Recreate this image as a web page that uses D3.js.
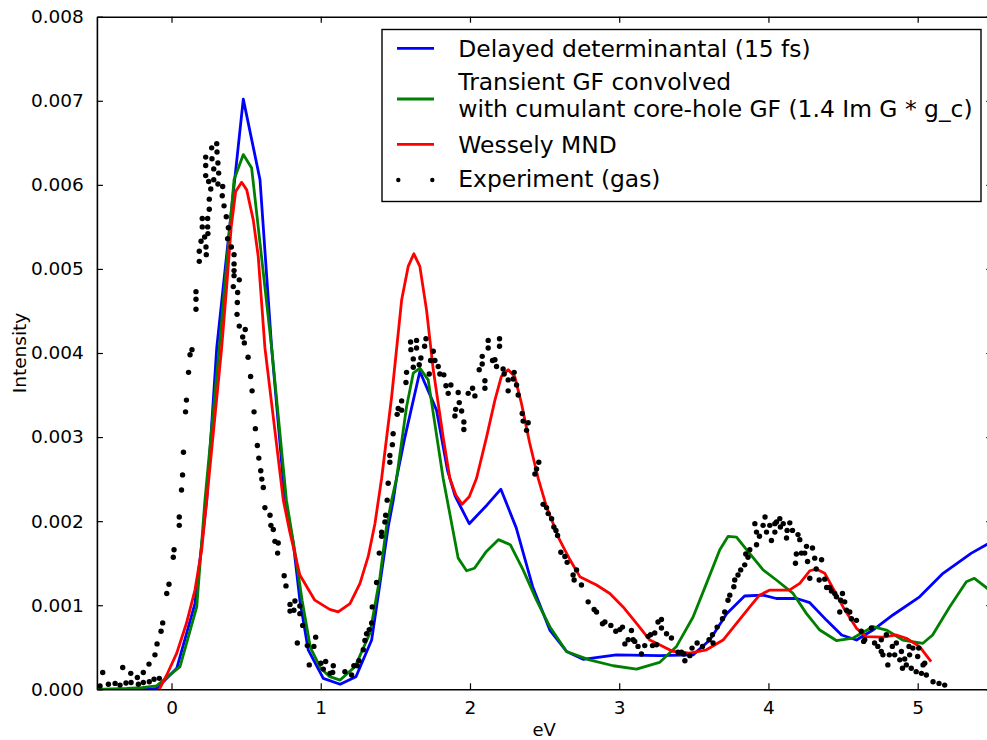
<!DOCTYPE html>
<html>
<head>
<meta charset="utf-8">
<script src="https://cdn.jsdelivr.net/npm/d3@7"></script>
<style>
  body { margin: 0; background: #fff; }
  svg { display: block; }
  text { font-family: "DejaVu Sans", sans-serif; fill: #000; }
</style>
</head>
<body>
<svg id="chart" width="987" height="740"></svg>
<script>
// ---- Series: photon energy (eV) and intensity ----
const delayedX = [-0.5, -0.3, -0.15, -0.1, 0.035, 0.157, 0.236, 0.303, 0.481, 0.593, 0.671, 0.76, 0.816, 0.86, 0.916, 1.017, 1.13, 1.236, 1.341, 1.397, 1.452, 1.486, 1.508, 1.564, 1.664, 1.776, 1.85, 1.9, 1.995, 2.113, 2.207, 2.31, 2.42, 2.535, 2.647, 2.758, 2.98, 3.27, 3.495, 3.607, 3.72, 3.84, 3.964, 4.053, 4.19, 4.277, 4.39, 4.49, 4.59, 4.70, 4.834, 5.013, 5.17, 5.36, 5.5];
const delayedY = [0, 0, 0, 0.00001, 0.00025, 0.00102, 0.00225, 0.00406, 0.00702, 0.00606, 0.00406, 0.00225, 0.00174, 0.00106, 0.00047, 0.00013, 0.00006, 0.00015, 0.000586, 0.00126, 0.00193, 0.00225, 0.00251, 0.0030, 0.00378, 0.00332, 0.0026, 0.0023, 0.00197, 0.00219, 0.00238, 0.00192, 0.00122, 0.000705, 0.00045, 0.000357, 0.00041, 0.0004, 0.00041, 0.000586, 0.0009, 0.00111, 0.00112, 0.00108, 0.00108, 0.00103, 0.00082, 0.000646, 0.000586, 0.000705, 0.000884, 0.0011, 0.00138, 0.00162, 0.00176];

const transientX = [-0.5, -0.3, -0.2, -0.1, 0.057, 0.169, 0.224, 0.32, 0.419, 0.481, 0.537, 0.671, 0.77, 0.83, 0.875, 0.93, 1.0, 1.06, 1.13, 1.23, 1.33, 1.397, 1.44, 1.475, 1.508, 1.575, 1.62, 1.664, 1.72, 1.82, 1.921, 1.977, 2.03, 2.11, 2.19, 2.27, 2.356, 2.446, 2.535, 2.647, 2.80, 2.96, 3.116, 3.27, 3.384, 3.495, 3.585, 3.674, 3.73, 3.786, 3.853, 3.964, 4.053, 4.165, 4.255, 4.344, 4.455, 4.567, 4.70, 4.79, 4.90, 5.035, 5.10, 5.214, 5.326, 5.38, 5.46, 5.5];
const transientY = [0, 0.00001, 0.00002, 0.00004, 0.00027, 0.00098, 0.00225, 0.00406, 0.00606, 0.00636, 0.0062, 0.00406, 0.00225, 0.0016, 0.00106, 0.0005, 0.00025, 0.00015, 0.00011, 0.00027, 0.00067, 0.00134, 0.00193, 0.00225, 0.00251, 0.00336, 0.00376, 0.00382, 0.00368, 0.00251, 0.00156, 0.00141, 0.00144, 0.00164, 0.00178, 0.00172, 0.00142, 0.00106, 0.000745, 0.00045, 0.00035, 0.00028, 0.00024, 0.00032, 0.00051, 0.00086, 0.00126, 0.00166, 0.00182, 0.00181, 0.00166, 0.00142, 0.0013, 0.00114, 0.0009, 0.000705, 0.00058, 0.00061, 0.000745, 0.000705, 0.000586, 0.000547, 0.000646, 0.00098, 0.00128, 0.00132, 0.00121, 0.00115];

const wesselyX = [-0.082, -0.032, 0.035, 0.10, 0.157, 0.202, 0.236, 0.336, 0.37, 0.40, 0.43, 0.47, 0.504, 0.548, 0.581, 0.626, 0.749, 0.794, 0.86, 0.96, 1.06, 1.117, 1.196, 1.263, 1.318, 1.363, 1.408, 1.475, 1.542, 1.586, 1.624, 1.664, 1.709, 1.754, 1.82, 1.865, 1.905, 1.947, 1.995, 2.044, 2.111, 2.167, 2.21, 2.256, 2.30, 2.345, 2.40, 2.457, 2.513, 2.60, 2.67, 2.736, 2.848, 2.937, 3.026, 3.116, 3.205, 3.27, 3.36, 3.473, 3.585, 3.696, 3.786, 3.875, 3.94, 4.01, 4.14, 4.21, 4.277, 4.32, 4.377, 4.433, 4.50, 4.59, 4.656, 4.768, 4.857, 4.924, 5.013, 5.09];
const wesselyY = [0, 0.00017, 0.00043, 0.000785, 0.00118, 0.00166, 0.00225, 0.00406, 0.0048, 0.0055, 0.00592, 0.00603, 0.00594, 0.00558, 0.00515, 0.00406, 0.00225, 0.00186, 0.00136, 0.00106, 0.00095, 0.00092, 0.00102, 0.00126, 0.00158, 0.00197, 0.00251, 0.00348, 0.00463, 0.00503, 0.00518, 0.00503, 0.00451, 0.0038, 0.0030, 0.00251, 0.00231, 0.0022, 0.00229, 0.00251, 0.0030, 0.00344, 0.00372, 0.0038, 0.00372, 0.0034, 0.00293, 0.00251, 0.00217, 0.00178, 0.00154, 0.00134, 0.00124, 0.00114, 0.00098, 0.000785, 0.000586, 0.00053, 0.00045, 0.00043, 0.00047, 0.000586, 0.000785, 0.00098, 0.00112, 0.00118, 0.00118, 0.00126, 0.00141, 0.00143, 0.00138, 0.0012, 0.00098, 0.000725, 0.000626, 0.00062, 0.000646, 0.000607, 0.000507, 0.00033];

const experimentX = [-0.479, -0.461, -0.423, -0.378, -0.345, -0.327, -0.305, -0.273, -0.271, -0.229, -0.222, -0.189, -0.189, -0.151, -0.149, -0.117, -0.111, -0.097, -0.082, -0.070, -0.059, -0.032, -0.017, 0.012, 0.017, 0.052, 0.052, 0.067, 0.074, 0.080, 0.094, 0.100, 0.114, 0.124, 0.137, 0.164, 0.164, 0.164, 0.186, 0.186, 0.198, 0.206, 0.206, 0.222, 0.231, 0.233, 0.242, 0.242, 0.244, 0.229, 0.229, 0.229, 0.249, 0.253, 0.253, 0.263, 0.269, 0.271, 0.283, 0.283, 0.303, 0.305, 0.311, 0.316, 0.311, 0.343, 0.340, 0.352, 0.367, 0.381, 0.376, 0.401, 0.419, 0.419, 0.419, 0.419, 0.414, 0.454, 0.443, 0.441, 0.439, 0.454, 0.494, 0.477, 0.488, 0.513, 0.530, 0.540, 0.553, 0.562, 0.575, 0.585, 0.598, 0.605, 0.615, 0.626, 0.66, 0.666, 0.682, 0.693, 0.715, 0.711, 0.755, 0.767, 0.794, 0.794, 0.827, 0.82, 0.86, 0.86, 0.843, 0.879, 0.91, 0.966, 0.954, 0.923, 1.001, 1.033, 1.017, 1.062, 1.084, 1.08, 1.162, 1.207, 1.222, 1.245, 1.256, 1.285, 1.296, 1.307, 1.325, 1.341, 1.345, 1.374, 1.392, 1.408, 1.408, 1.43, 1.435, 1.445, 1.452, 1.463, 1.463, 1.48, 1.485, 1.512, 1.519, 1.542, 1.542, 1.571, 1.575, 1.602, 1.604, 1.62, 1.62, 1.642, 1.642, 1.66, 1.671, 1.696, 1.705, 1.727, 1.736, 1.754, 1.765, 1.787, 1.798, 1.825, 1.839, 1.854, 1.872, 1.899, 1.904, 1.921, 1.928, 1.944, 1.959, 1.959, 1.988, 2.017, 2.033, 2.062, 2.082, 2.082, 2.10, 2.10, 2.122, 2.122, 2.151, 2.167, 2.178, 2.198, 2.198, 2.222, 2.229, 2.256, 2.256, 2.289, 2.296, 2.312, 2.323, 2.35, 2.356, 2.379, 2.39, 2.461, 2.446, 2.435, 2.49, 2.513, 2.524, 2.547, 2.562, 2.576, 2.587, 2.609, 2.636, 2.651, 2.691, 2.714, 2.698, 2.747, 2.792, 2.832, 2.848, 2.888, 2.904, 2.944, 2.977, 3.004, 3.022, 3.038, 3.06, 3.082, 3.093, 3.104, 3.126, 3.149, 3.171, 3.194, 3.21, 3.223, 3.238, 3.25, 3.26, 3.283, 3.283, 3.317, 3.35, 3.394, 3.417, 3.433, 3.44, 3.473, 3.488, 3.522, 3.558, 3.602, 3.625, 3.629, 3.656, 3.692, 3.707, 3.729, 3.741, 3.768, 3.774, 3.796, 3.814, 3.841, 3.848, 3.863, 3.875, 3.92, 3.92, 3.909, 3.94, 3.964, 3.977, 3.987, 4.009, 4.02, 4.043, 4.043, 4.054, 4.076, 4.08, 4.099, 4.121, 4.125, 4.143, 4.161, 4.181, 4.187, 4.198, 4.21, 4.221, 4.243, 4.255, 4.262, 4.277, 4.295, 4.31, 4.32, 4.34, 4.356, 4.377, 4.39, 4.41, 4.422, 4.444, 4.455, 4.484, 4.496, 4.478, 4.511, 4.523, 4.545, 4.556, 4.59, 4.622, 4.645, 4.638, 4.69, 4.711, 4.733, 4.756, 4.756, 4.767, 4.79, 4.8, 4.81, 4.83, 4.846, 4.857, 4.88, 4.891, 4.898, 4.913, 4.924, 4.942, 4.946, 4.957, 4.968, 4.99, 5.0, 5.007, 5.025, 5.036, 5.047, 5.058, 5.103, 5.143, 5.181];
const experimentY = [0.00004, 0.0002, 0.00006, 0.00007, 0.00005, 0.00026, 0.000075, 0.00019, 0.00008, 0.00014, 0.00006, 0.0002, 0.00008, 0.0003, 0.00009, 0.00012, 0.00041, 0.00054, 0.00013, 0.00069, 0.00079, 0.00114, 0.00125, 0.00157, 0.00166, 0.00195, 0.00205, 0.00237, 0.00255, 0.00282, 0.0033, 0.00344, 0.00377, 0.00398, 0.00404, 0.00473, 0.00464, 0.00452, 0.00509, 0.00521, 0.00533, 0.0055, 0.0056, 0.00538, 0.00526, 0.00517, 0.0056, 0.0055, 0.00542, 0.00611, 0.00623, 0.00633, 0.00604, 0.00583, 0.00571, 0.00595, 0.00644, 0.00631, 0.00606, 0.00619, 0.00649, 0.00639, 0.00626, 0.00614, 0.00601, 0.00598, 0.00587, 0.00575, 0.00562, 0.00549, 0.00536, 0.00526, 0.00517, 0.00506, 0.00498, 0.00492, 0.00479, 0.00487, 0.00472, 0.0046, 0.00446, 0.00432, 0.00428, 0.00419, 0.00412, 0.00395, 0.00372, 0.00355, 0.0033, 0.0031, 0.0029, 0.00275, 0.0026, 0.0025, 0.0024, 0.00216, 0.00207, 0.00195, 0.0019, 0.00176, 0.00174, 0.00162, 0.00135, 0.00123, 0.00101, 0.00093, 0.00105, 0.00094, 0.00099, 0.0009, 0.00055, 0.00076, 0.00052, 0.00062, 0.00051, 0.00029, 0.00031, 0.00033, 0.00024, 0.00019, 0.00028, 0.0002, 0.00021, 0.00017, 0.00028, 0.00028, 0.00034, 0.00047, 0.00058, 0.00066, 0.00071, 0.00079, 0.00098, 0.00127, 0.00162, 0.00182, 0.00187, 0.00199, 0.00207, 0.00225, 0.00245, 0.0027, 0.00278, 0.00291, 0.00304, 0.00327, 0.00334, 0.00332, 0.00343, 0.00365, 0.00377, 0.00413, 0.00404, 0.00393, 0.00383, 0.00415, 0.00406, 0.00386, 0.00394, 0.00408, 0.00417, 0.00375, 0.00391, 0.00402, 0.00391, 0.00384, 0.00375, 0.00374, 0.00361, 0.00352, 0.00362, 0.00325, 0.00333, 0.00353, 0.00341, 0.00331, 0.00318, 0.00309, 0.00352, 0.00358, 0.00349, 0.0038, 0.00387, 0.00396, 0.00358, 0.00367, 0.00406, 0.00415, 0.00391, 0.00392, 0.00384, 0.00408, 0.00417, 0.00381, 0.00375, 0.00368, 0.00355, 0.00369, 0.00377, 0.00362, 0.0035, 0.00328, 0.00319, 0.00308, 0.00317, 0.0027, 0.00262, 0.00256, 0.0022, 0.00216, 0.00209, 0.00203, 0.00193, 0.00189, 0.00183, 0.00163, 0.00158, 0.00151, 0.00136, 0.00142, 0.0013, 0.00124, 0.00104, 0.00095, 0.00092, 0.00078, 0.0008, 0.00076, 0.00069, 0.00071, 0.00074, 0.00054, 0.00059, 0.0007, 0.00059, 0.00057, 0.00051, 0.00042, 0.00052, 0.00063, 0.00065, 0.00052, 0.00067, 0.00053, 0.0008, 0.00083, 0.00073, 0.00066, 0.00061, 0.00044, 0.00044, 0.00042, 0.00034, 0.0004, 0.00049, 0.00055, 0.00051, 0.00059, 0.00065, 0.00055, 0.00074, 0.00084, 0.00092, 0.00106, 0.00112, 0.00122, 0.0013, 0.00136, 0.00142, 0.00148, 0.00161, 0.00157, 0.00166, 0.00172, 0.00187, 0.00197, 0.00182, 0.00195, 0.00205, 0.00187, 0.00195, 0.00177, 0.00197, 0.00187, 0.00199, 0.00203, 0.00193, 0.00197, 0.0018, 0.00189, 0.00198, 0.00189, 0.0015, 0.00161, 0.00184, 0.00178, 0.00162, 0.00162, 0.0017, 0.00152, 0.00132, 0.00168, 0.00156, 0.00143, 0.0013, 0.00154, 0.00131, 0.00121, 0.00121, 0.00117, 0.00114, 0.0011, 0.00106, 0.00114, 0.00092, 0.00104, 0.00094, 0.00092, 0.00084, 0.00082, 0.00069, 0.00059, 0.00057, 0.00073, 0.00055, 0.00051, 0.00059, 0.00045, 0.00041, 0.00065, 0.00029, 0.00041, 0.00051, 0.00041, 0.00055, 0.00035, 0.00045, 0.00025, 0.00036, 0.00029, 0.00051, 0.00041, 0.00025, 0.00049, 0.00021, 0.00039, 0.00049, 0.00019, 0.00029, 0.00031, 0.00017, 0.00009, 0.00007, 0.00005];

const xTicks = [0, 1, 2, 3, 4, 5];
const yTicks = [0, 0.001, 0.002, 0.003, 0.004, 0.005, 0.006, 0.007, 0.008];

const seriesNames = [
  ["Delayed determinantal (15 fs)"],
  ["Transient GF convolved", "with cumulant core-hole GF (1.4 Im G * g_c)"],
  ["Wessely MND"],
  ["Experiment (gas)"]
];
const seriesColors = ["#0000ff", "#008000", "#ff0000", "#000000"];

(function draw() {
  const svg = d3.select("#chart");
  const pLeft = 96.9, pRight = 992.3, pTop = 16.7, pBottom = 689.3;

  const x = d3.scaleLinear().domain([-0.5, 5.5]).range([pLeft, pRight]);
  const y = d3.scaleLinear().domain([0, 0.008]).range([pBottom, pTop]);

  svg.append("defs").append("clipPath").attr("id", "plot-clip")
    .append("rect").attr("x", pLeft).attr("y", pTop)
    .attr("width", pRight - pLeft).attr("height", pBottom - pTop);

  const plot = svg.append("g").attr("clip-path", "url(#plot-clip)");

  const line = d3.line().x(d => x(d[0])).y(d => y(d[1]));
  const curves = [
    [delayedX, delayedY],
    [transientX, transientY],
    [wesselyX, wesselyY]
  ];
  curves.forEach(([xs, ys], i) => {
    plot.append("path")
      .datum(xs.map((v, k) => [v, ys[k]]))
      .attr("d", line)
      .attr("fill", "none")
      .attr("stroke", seriesColors[i])
      .attr("stroke-width", 2.8)
      .attr("stroke-linejoin", "round");
  });

  plot.append("g").selectAll("circle")
    .data(experimentX.map((v, k) => [v, experimentY[k]]))
    .join("circle")
    .attr("cx", d => x(d[0]))
    .attr("cy", d => y(d[1]))
    .attr("r", 2.7)
    .attr("fill", "#000");

  // Axes, ticks pointing inward on all four sides
  const tickLen = 6;
  const fmtY = d3.format(".3f");

  const axBottom = svg.append("g").attr("transform", `translate(0,${pBottom})`)
    .call(d3.axisBottom(x).tickValues(xTicks).tickSizeInner(-tickLen).tickSizeOuter(0).tickPadding(12).tickFormat(d3.format("d")));
  const axTop = svg.append("g").attr("transform", `translate(0,${pTop})`)
    .call(d3.axisTop(x).tickValues(xTicks).tickSizeInner(-tickLen).tickSizeOuter(0).tickFormat(""));
  const axLeft = svg.append("g").attr("transform", `translate(${pLeft},0)`)
    .call(d3.axisLeft(y).tickValues(yTicks).tickSizeInner(-tickLen).tickSizeOuter(0).tickPadding(13).tickFormat(fmtY));
  const axRight = svg.append("g").attr("transform", `translate(${pRight},0)`)
    .call(d3.axisRight(y).tickValues(yTicks).tickSizeInner(-tickLen).tickSizeOuter(0).tickFormat(""));

  [axBottom, axTop, axLeft, axRight].forEach(g => {
    g.select(".domain").attr("stroke", "#000").attr("stroke-width", 1.6);
    g.selectAll(".tick line").attr("stroke", "#000").attr("stroke-width", 1.2);
    g.selectAll(".tick text").attr("font-size", 18.5).attr("font-family", "DejaVu Sans").attr("fill", "#000");
  });

  // Axis titles
  svg.append("text")
    .attr("x", (pLeft + pRight) / 2 - 0.5).attr("y", 735.5)
    .attr("text-anchor", "middle").attr("font-size", 18)
    .text("eV");
  svg.append("text")
    .attr("transform", `translate(25.5,${(pTop + pBottom) / 2}) rotate(-90)`)
    .attr("text-anchor", "middle").attr("font-size", 18.5)
    .text("Intensity");

  // Legend
  const legend = svg.append("g");
  legend.append("rect")
    .attr("x", 382).attr("y", 29.5).attr("width", 599).attr("height", 172)
    .attr("fill", "#fff").attr("stroke", "#000").attr("stroke-width", 1.4);

  const handleY = [48.3, 99, 144.3, 180];
  const baselines = [[57.3], [90, 116.7], [153.3], [186.7]];
  seriesNames.forEach((lines, i) => {
    if (i < 3) {
      legend.append("line")
        .attr("x1", 397).attr("x2", 434)
        .attr("y1", handleY[i]).attr("y2", handleY[i])
        .attr("stroke", seriesColors[i]).attr("stroke-width", 2.8);
    } else {
      [398.3, 432.3].forEach(cx => legend.append("circle")
        .attr("cx", cx).attr("cy", handleY[i]).attr("r", 2.2).attr("fill", "#000"));
    }
    lines.forEach((t, j) => legend.append("text")
      .attr("x", 458.3).attr("y", baselines[i][j])
      .attr("font-size", 23.4)
      .text(t));
  });
})();
</script>
</body>
</html>
